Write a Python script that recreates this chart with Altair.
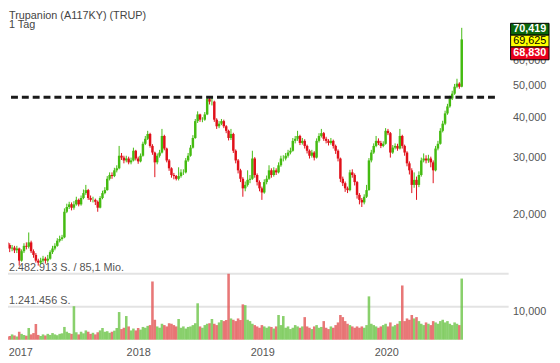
import altair as alt
import pandas as pd

# ---------------- data ----------------
title_text = "Trupanion (A117KY) (TRUP)"
interval_text = "1 Tag"
first_week = "2016-11-21"          # weekly candles, first Monday
first_open = 16.4

close = [16.6, 16.8, 16.4, 16.1, 15.7, 15.8, 15.5, 15.7, 14.4, 15.4,
         16.0, 15.9, 16.4, 15.4, 15.0, 14.4, 14.2, 14.4, 14.6, 14.4,
         14.6, 15.3, 15.7, 16.0, 16.6, 16.8, 17.0, 20.4, 21.1, 21.5,
         21.0, 21.5, 22.2, 21.5, 22.5, 23.3, 23.8, 22.5, 22.2, 22.2,
         21.9, 21.0, 22.5, 23.3, 23.8, 25.8, 26.5, 26.3, 27.4, 27.8,
         30.4, 30.0, 29.4, 29.8, 29.0, 29.4, 31.5, 29.8, 29.2, 30.4,
         33.1, 34.3, 35.5, 32.6, 31.1, 29.0, 30.4, 31.1, 35.0, 32.0,
         29.4, 27.8, 26.5, 26.3, 25.8, 26.3, 27.0, 27.0, 29.4, 30.4,
         32.2, 34.5, 38.9, 40.8, 39.3, 39.3, 40.8, 45.5, 44.7, 44.7,
         39.3, 37.5, 38.2, 38.9, 37.5, 36.3, 34.5, 35.5, 31.5, 29.4,
         27.4, 25.8, 24.1, 24.7, 25.6, 25.8, 29.8, 26.5, 25.2, 24.1,
         23.4, 25.2, 25.8, 27.4, 26.5, 27.4, 27.0, 28.4, 29.8, 29.8,
         30.4, 31.1, 31.5, 33.8, 34.3, 35.0, 33.3, 33.8, 32.6, 31.5,
         30.4, 31.1, 30.0, 33.8, 35.0, 35.7, 34.3, 33.8, 33.3, 33.8,
         32.6, 31.5, 29.8, 25.8, 25.0, 24.1, 23.8, 27.0, 26.5, 25.2,
         23.0, 22.2, 21.8, 22.7, 23.8, 29.4, 31.1, 32.6, 33.8, 33.3,
         32.6, 33.1, 36.3, 35.7, 31.1, 32.2, 32.6, 32.0, 35.0, 32.6,
         31.1, 28.8, 27.4, 24.7, 25.6, 24.7, 26.5, 29.4, 29.8, 29.4,
         29.8, 29.0, 27.4, 32.0, 33.1, 36.3, 38.2, 41.1, 43.2, 45.7,
         47.3, 49.7, 50.8, 49.7, 69.625]

high = [17.1, 17.2, 17.0, 16.6, 16.3, 16.1, 16.0, 16.0, 15.8, 15.6,
        16.3, 16.4, 17.6, 16.6, 15.6, 15.2, 14.6, 14.7, 14.9, 14.8,
        15.0, 15.5, 16.0, 16.3, 16.9, 17.2, 17.3, 20.9, 21.6, 21.9,
        21.8, 22.0, 22.7, 22.4, 22.9, 23.9, 24.7, 24.0, 22.9, 22.7,
        22.4, 22.1, 22.8, 23.7, 24.3, 26.3, 27.0, 27.0, 27.9, 28.4,
        32.6, 31.0, 30.4, 30.4, 30.2, 30.0, 32.2, 31.7, 30.2, 30.9,
        33.6, 35.0, 36.3, 35.8, 33.0, 31.3, 30.9, 31.7, 36.8, 35.3,
        32.2, 29.7, 28.0, 26.9, 26.5, 28.0, 27.6, 27.6, 29.9, 31.0,
        32.8, 35.2, 39.5, 41.7, 41.0, 40.0, 41.5, 46.3, 46.0, 46.2,
        45.0, 39.7, 38.9, 39.5, 39.3, 37.8, 36.6, 36.8, 35.8, 31.8,
        29.7, 27.7, 26.1, 25.3, 27.4, 26.5, 31.5, 30.1, 26.8, 25.5,
        24.4, 25.7, 26.4, 28.4, 27.8, 28.0, 27.8, 29.0, 30.4, 30.5,
        31.0, 31.7, 32.2, 34.5, 35.0, 36.3, 35.3, 34.5, 34.2, 32.9,
        31.8, 31.7, 31.4, 34.4, 35.7, 36.8, 36.0, 34.8, 34.2, 34.5,
        34.1, 32.9, 31.8, 30.0, 26.2, 25.3, 24.4, 27.5, 27.6, 26.8,
        25.4, 23.3, 22.5, 23.1, 24.7, 29.9, 31.7, 33.2, 35.0, 34.4,
        33.8, 33.7, 37.0, 36.8, 36.0, 32.8, 33.2, 33.1, 36.8, 35.3,
        32.9, 31.4, 29.2, 27.8, 27.0, 26.2, 27.2, 30.0, 30.9, 30.5,
        30.6, 30.2, 29.4, 32.6, 33.8, 37.0, 39.0, 41.9, 44.0, 46.6,
        48.3, 50.7, 52.6, 51.3, 75.6]

low = [16.2, 16.4, 16.1, 15.7, 15.3, 15.4, 15.2, 15.2, 13.9, 14.3,
       15.2, 15.6, 15.7, 15.2, 14.7, 14.2, 13.9, 14.0, 14.2, 14.1,
       14.2, 14.5, 15.1, 15.5, 15.9, 16.4, 16.6, 16.9, 20.2, 20.8,
       20.6, 20.7, 21.3, 21.2, 21.3, 22.3, 23.0, 22.2, 21.9, 21.8,
       21.4, 20.4, 20.9, 22.3, 23.1, 23.7, 25.5, 25.8, 26.1, 27.0,
       27.6, 29.5, 28.8, 29.0, 28.6, 28.6, 29.2, 29.4, 28.7, 29.0,
       30.2, 32.8, 34.0, 32.2, 30.6, 26.1, 28.6, 30.0, 30.9, 31.6,
       29.0, 27.3, 26.0, 25.7, 25.5, 25.5, 26.0, 26.5, 26.8, 29.1,
       30.2, 32.0, 34.3, 38.4, 38.7, 38.6, 39.0, 40.6, 43.8, 43.5,
       38.7, 36.8, 37.0, 37.8, 37.0, 35.7, 33.9, 34.0, 31.0, 28.8,
       26.8, 25.2, 22.7, 23.6, 24.4, 25.0, 25.6, 26.0, 24.6, 23.6,
       22.2, 23.2, 24.8, 25.6, 26.0, 26.2, 26.5, 26.8, 28.1, 29.2,
       29.4, 30.0, 30.7, 31.3, 33.2, 33.8, 32.8, 32.9, 32.0, 30.9,
       29.8, 30.0, 29.4, 29.8, 33.4, 34.6, 33.8, 33.2, 32.7, 32.9,
       32.0, 30.8, 29.2, 25.2, 24.5, 23.5, 23.3, 23.6, 26.0, 24.6,
       22.4, 21.5, 21.1, 21.5, 22.5, 23.7, 29.0, 30.8, 32.3, 32.8,
       32.1, 32.3, 32.9, 35.2, 30.0, 30.8, 31.8, 31.5, 31.8, 32.0,
       30.4, 28.2, 26.6, 23.3, 24.2, 22.2, 24.3, 26.2, 29.0, 28.8,
       28.9, 28.0, 25.0, 27.2, 31.6, 32.9, 35.9, 37.8, 40.7, 42.8,
       45.2, 46.9, 49.2, 49.0, 49.5]

# daily-scale volume, millions of shares (one bar per week)
volume_m = [0.15, 0.12, 0.18, 0.10, 0.14, 0.20, 0.16, 0.12, 0.30, 0.22,
            0.18, 0.15, 0.44, 0.20, 0.25, 0.59, 0.18, 0.14, 0.20, 0.16,
            0.22, 0.18, 0.25, 0.20, 0.17, 0.22, 0.24, 0.48, 0.30, 0.25,
            0.22, 1.26, 0.28, 0.20, 0.30, 0.24, 0.35, 0.30, 0.22, 0.26,
            0.20, 0.28, 0.35, 0.44, 0.30, 0.32, 0.26, 0.30, 0.34, 0.44,
            1.04, 0.40, 0.45, 0.89, 0.50, 0.35, 0.42, 0.35, 0.44, 0.38,
            0.48, 0.45, 0.52, 0.55, 2.19, 0.75, 0.50, 0.45, 0.60, 0.55,
            0.50, 0.62, 0.60, 0.55, 0.50, 0.78, 0.45, 0.50, 0.42, 0.48,
            0.50, 0.55, 0.62, 1.37, 0.50, 0.45, 0.55, 0.60, 0.62, 0.78,
            0.60, 0.55, 0.65, 0.74, 0.70, 0.74, 2.48, 0.80, 0.75, 0.70,
            0.80, 0.74, 1.33, 1.30, 0.75, 0.70, 0.60, 0.55, 0.50, 0.45,
            0.55, 0.50, 0.45, 0.50, 0.48, 0.42, 0.50, 0.93, 0.55, 0.89,
            0.45, 0.50, 0.40, 0.45, 0.55, 0.50, 0.45, 0.50, 0.85, 0.50,
            0.45, 0.40, 0.50, 0.55, 0.45, 0.48, 0.70, 0.45, 0.40, 0.50,
            0.45, 0.55, 0.65, 0.93, 0.85, 0.70, 0.60, 0.55, 0.50, 0.45,
            0.50, 0.45, 0.50, 0.45, 0.55, 1.63, 0.60, 0.55, 0.50, 0.45,
            0.50, 0.55, 0.60, 0.50, 0.65, 0.50, 0.55, 0.60, 0.70, 2.04,
            0.70, 0.80, 0.75, 0.93, 0.80, 0.85, 0.70, 0.60, 0.55, 0.65,
            0.60, 0.55, 0.70, 0.65, 0.60, 0.70, 0.75, 0.65, 0.70, 0.60,
            0.55, 0.65, 0.60, 0.55, 2.30]

resistance_level = 46.1
resistance_end = "2020-11-27"
quotes = [70.419, 69.625, 68.830]          # upper / last / lower quote boxes
vol_max = 2482913
vol_max_label = "2.482.913 S. / 85,1 Mio."
vol_half = 1241456
vol_half_label = "1.241.456 S."
price_ticks = [10, 20, 30, 40, 50, 60, 90]

x_domain = ["2016-12-14", "2020-12-26"]
price_domain = [8.2, 85.5]
vol_domain = [0, 12380000]

# ---------------- styling ----------------
W, H = 508, 334
FONT = "Liberation Sans"
UP, DOWN = "#44bb11", "#e0101a"
VUP, VDOWN = "#6cc447", "#e25555"

dates = pd.date_range(first_week, periods=len(close), freq="7D").strftime("%Y-%m-%d")
opens = [first_open] + close[:-1]
df = pd.DataFrame({
    "date": dates, "open": opens, "high": high, "low": low, "close": close,
    "vol": [v * 1e6 for v in volume_m],
})
df["up"] = df["close"] >= df["open"]
df["ccol"] = df["up"].map({True: UP, False: DOWN})
df["vcol"] = df["up"].map({True: VUP, False: VDOWN})

xscale = alt.Scale(domain=x_domain, nice=False, padding=0)
xaxis = alt.Axis(format="%Y", tickCount="year", title=None, domain=False, ticks=False,
                 tickSize=0, grid=False, labelPadding=7, labelFontSize=11,
                 labelColor="#555555", labelFont=FONT, labelFlush=10, labelFlushOffset=6)
pscale = alt.Scale(type="log", domain=price_domain, nice=False, zero=False, padding=0)
paxis = alt.Axis(orient="right", values=price_ticks, title=None, domain=False, ticks=False,
                 tickSize=0, grid=False, labelPadding=4, labelFontSize=11,
                 labelColor="#555555", labelFont=FONT,
                 labelExpr="replace(format(datum.value, '.3f'), '.', ',')")
vscale = alt.Scale(domain=vol_domain, nice=False, padding=0)


def xdate(field="date"):
    return alt.X(f"{field}:T", scale=xscale, axis=xaxis)


base = alt.Chart(df)

wicks = base.mark_rule(strokeWidth=1).encode(
    x=xdate(),
    y=alt.Y("low:Q", scale=pscale, axis=paxis),
    y2="high:Q",
    color=alt.Color("ccol:N", scale=None),
)
bodies = base.mark_bar(width=2.5).encode(
    x=xdate(),
    y=alt.Y("open:Q", scale=pscale, axis=paxis),
    y2="close:Q",
    color=alt.Color("ccol:N", scale=None),
)

level_df = pd.DataFrame({"start": [first_week], "end": [resistance_end],
                         "level": [resistance_level]})
dashed = alt.Chart(level_df).mark_rule(color="#1a1a1a", strokeWidth=3,
                                       strokeDash=[7, 4]).encode(
    x=xdate("start"), x2="end:T", y=alt.Y("level:Q", scale=pscale, axis=paxis))

# quote boxes stacked around the last price
last = quotes[1]
box_specs = [
    (quotes[0], "#0b670b", "white", "bold", -16.3, -4.3),
    (quotes[1], "#ffff00", "black", "normal", -4.3, 7.7),
    (quotes[2], "#e8001c", "white", "bold", 7.7, 20.7),
]
boxes = []
for q, fill, tcol, weight, o1, o2 in box_specs:
    qdf = pd.DataFrame({"p": [last], "label": [f"{q:.3f}".replace(".", ",")]})
    boxes.append(alt.Chart(qdf).mark_rect(fill=fill, stroke="black", strokeWidth=1,
                                          yOffset=o1, y2Offset=o2).encode(
        x=alt.value(W + 2), x2=alt.value(W + 41),
        y=alt.Y("p:Q", scale=pscale, axis=paxis), y2="p:Q"))
    boxes.append(alt.Chart(qdf).mark_text(font=FONT, fontSize=11, fontWeight=weight,
                                          color=tcol, align="center", baseline="middle",
                                          yOffset=(o1 + o2) / 2).encode(
        x=alt.value(W + 21.5), y=alt.Y("p:Q", scale=pscale, axis=paxis), text="label:N"))

tdf = pd.DataFrame({"t": [title_text], "s": [interval_text]})
title1 = alt.Chart(tdf).mark_text(font=FONT, fontSize=11, color="#444444", align="left",
                                  baseline="alphabetic").encode(
    x=alt.value(1), y=alt.value(9), text="t:N")
title2 = alt.Chart(tdf).mark_text(font=FONT, fontSize=11, color="#444444", align="left",
                                  baseline="alphabetic").encode(
    x=alt.value(1), y=alt.value(17.5), text="s:N")

price_layer = alt.layer(wicks, bodies, dashed, *boxes, title1, title2)

gdf = pd.DataFrame({"v": [vol_max, vol_half], "label": [vol_max_label, vol_half_label]})
grid = alt.Chart(gdf).mark_rule(color="#e3e3e3", strokeWidth=2).encode(
    y=alt.Y("v:Q", scale=vscale, axis=None))
vbars = base.mark_bar(width=2.6, opacity=0.8).encode(
    x=xdate(),
    y=alt.Y("vol:Q", scale=vscale, axis=None),
    color=alt.Color("vcol:N", scale=None),
)
glabels = alt.Chart(gdf).mark_text(font=FONT, fontSize=11, color="#555555", align="left",
                                   baseline="alphabetic", dy=-3).encode(
    x=alt.value(1), y=alt.Y("v:Q", scale=vscale, axis=None), text="label:N")

volume_layer = alt.layer(grid, vbars, glabels)

chart = alt.layer(volume_layer, price_layer).resolve_scale(y="independent").properties(
    width=W, height=H,
    autosize=alt.AutoSizeParams(type="none"),
    padding={"left": 0, "top": 0, "right": 44, "bottom": 18},
    background="white",
).configure_view(stroke=None)

chart.save("out.html", embed_options={"renderer": "svg", "actions": False})
